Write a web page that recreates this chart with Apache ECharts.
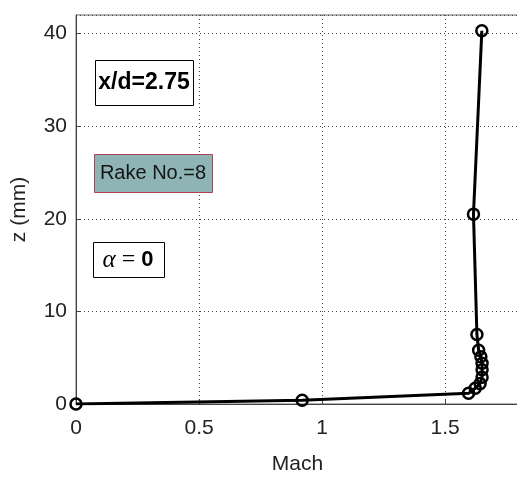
<!DOCTYPE html>
<html>
<head>
<meta charset="utf-8">
<script src="https://cdn.jsdelivr.net/npm/echarts@6/dist/echarts.min.js"></script>
<style>html,body{margin:0;padding:0;background:#fff}#c{width:517px;height:477px}</style>
</head>
<body>
<div id="c"></div>
<script>
var machValues = [0, 0.919, 1.595, 1.622, 1.642, 1.650, 1.650, 1.650, 1.645, 1.636, 1.629, 1.615, 1.649];
var zValues = [0, 0.4, 1.15, 1.7, 2.2, 2.9, 3.7, 4.4, 5.1, 5.8, 7.5, 20.5, 40.3];
var xTicks = [0, 0.5, 1, 1.5];
var yTicks = [0, 10, 20, 30, 40];
var xAxisName = 'Mach';
var yAxisName = 'z (mm)';
var labelXd = 'x/d=2.75';
var labelRake = 'Rake No.=8';

var points = machValues.map(function (m, i) { return [m, zValues[i]]; });
var font = '"Liberation Sans", Arial, sans-serif';

var chart = echarts.init(document.getElementById('c'));
chart.setOption({
  animation: false,
  backgroundColor: '#ffffff',
  grid: { left: 76, top: 15, right: -2, bottom: 73, containLabel: false, outerBoundsMode: 'none', show: true, borderColor: '#666', borderWidth: 1, backgroundColor: 'transparent' },
  xAxis: {
    type: 'value', min: 0, max: 1.8, interval: 0.5,
    name: xAxisName, nameLocation: 'middle', nameGap: 50,
    nameTextStyle: { fontFamily: font, fontSize: 21, color: '#222' },
    axisLine: { show: true, onZero: false, lineStyle: { color: '#444', width: 1 } },
    axisTick: { show: true, inside: true, length: 5, lineStyle: { color: '#444' } },
    axisLabel: {
      fontFamily: font, fontSize: 21, color: '#222', margin: 14, showMaxLabel: false,
      formatter: function (v) { return xTicks.indexOf(v) >= 0 ? String(v) : ''; }
    },
    splitLine: { show: true, lineStyle: { color: '#444', type: [1, 3], width: 1 } }
  },
  yAxis: {
    type: 'value', min: 0, max: 42, interval: 10,
    name: yAxisName, nameLocation: 'middle', nameGap: 46, nameRotate: 90,
    nameTextStyle: { fontFamily: font, fontSize: 21, color: '#222' },
    axisLine: { show: true, onZero: false, lineStyle: { color: '#444', width: 1 } },
    axisTick: { show: true, inside: true, length: 5, lineStyle: { color: '#444' } },
    axisLabel: {
      fontFamily: font, fontSize: 21, color: '#222', margin: 9, showMaxLabel: false,
      formatter: function (v) { return yTicks.indexOf(v) >= 0 ? String(v) : ''; }
    },
    splitLine: { show: true, lineStyle: { color: '#444', type: [1, 3], width: 1 } }
  },
  series: [{
    type: 'line',
    data: points,
    lineStyle: { color: '#000', width: 3 },
    symbol: 'circle',
    symbolSize: 11,
    itemStyle: { color: 'rgba(255,255,255,0)', borderColor: '#000', borderWidth: 2.5 },
    z: 5
  }],
  graphic: [
    {
      type: 'rect', left: 95, top: 60, shape: { width: 98, height: 45 },
      style: { fill: '#fff', stroke: '#000', lineWidth: 1 }, z: 10
    },
    {
      type: 'text', x: 144, y: 83,
      style: { text: labelXd, fontFamily: font, fontSize: 23, fontWeight: 'bold', fill: '#000', align: 'center', verticalAlign: 'middle' }, z: 11
    },
    {
      type: 'rect', left: 94, top: 154, shape: { width: 118, height: 38 },
      style: { fill: '#8fb4b6', stroke: '#b04050', lineWidth: 1 }, z: 10
    },
    {
      type: 'text', x: 153, y: 173,
      style: { text: labelRake, fontFamily: font, fontSize: 20, fill: '#151515', align: 'center', verticalAlign: 'middle' }, z: 11
    },
    {
      type: 'rect', left: 93, top: 242, shape: { width: 71, height: 35 },
      style: { fill: '#fff', stroke: '#000', lineWidth: 1 }, z: 10
    },
    {
      type: 'text', x: 128, y: 260,
      style: {
        text: '{a|α}{e| = }{b|0}',
        align: 'center', verticalAlign: 'middle',
        rich: {
          a: { fontFamily: '"Liberation Serif", serif', fontStyle: 'italic', fontSize: 25, fill: '#000' },
          e: { fontFamily: '"Liberation Serif", serif', fontSize: 24, fill: '#000' },
          b: { fontFamily: font, fontWeight: 'bold', fontSize: 22, fill: '#000' }
        }
      }, z: 11
    }
  ]
});
</script>
</body>
</html>
